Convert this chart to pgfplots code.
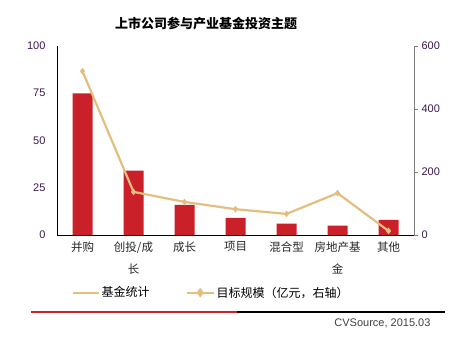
\documentclass[border=0pt]{standalone}
\usepackage{pgfplots}
\pgfplotsset{compat=1.18}
\usepackage{fontspec}
\setmainfont{Liberation Sans}
\newfontfamily\cjk{Noto Sans CJK SC}
\definecolor{barred}{HTML}{C9202A}
\definecolor{tanc}{HTML}{E3BE7E}
\definecolor{tickc}{HTML}{3A1A4A}
\begin{document}
\begin{tikzpicture}[x=1pt,y=1pt]
\path[use as bounding box] (0,0) rectangle (470,-346);
\node[font=\cjk\bfseries\fontsize{13}{15}\selectfont] at (206,-24) {上市公司参与产业基金投资主题};
\begin{axis}[
  at={(57pt,-235pt)}, anchor=south west, scale only axis,
  width=357pt, height=189pt,
  xmin=-0.5, xmax=6.5, ymin=0, ymax=100,
  axis y line*=left, axis x line*=bottom,
  axis line style={black, line width=0.8pt},
  ytick={0,25,50,75,100},
  xtick={0,...,6},
  xticklabels={并购,{创投/成\\长},成长,项目,混合型,{房地产基\\金},其他},
  major tick length=0pt,
  x tick label style={font=\cjk\fontsize{11.5}{22}\selectfont, align=center, color=black!85, yshift=-3pt},
  y tick label style={font=\fontsize{11}{13}\selectfont, color=tickc, xshift=-8pt},
  /pgf/number format/assume math mode=true,
  ybar, bar width=20pt,
]
\addplot[fill=barred, draw=none] coordinates {(0,75) (1,34) (2,16) (3,9) (4,6) (5,5) (6,8)};
\end{axis}
\begin{axis}[
  at={(57pt,-235pt)}, anchor=south west, scale only axis,
  width=357pt, height=189pt,
  xmin=-0.5, xmax=6.5, ymin=0, ymax=600,
  axis y line*=right, axis x line=none,
  axis line style={gray, line width=0.6pt},
  ytick={0,200,400,600},
  tick align=outside, major tick length=4pt,
  ytick style={gray},
  y tick label style={font=\fontsize{11}{13}\selectfont, color=tickc},
  /pgf/number format/assume math mode=true,
  legend style={at={(0.432,-0.305)}, anchor=center, draw=none, fill=none,
    font=\cjk\fontsize{12}{14}\selectfont, legend columns=2,
    /tikz/every even column/.append style={column sep=34pt}},
  legend image code/.code={\draw[#1] (0pt,0pt) -- (26pt,0pt);},
]
\addlegendimage{tanc, line width=2pt}
\addlegendentry{基金统计}
\addplot[tanc, line width=2.2pt, mark=diamond*, mark size=3pt, mark options={fill=tanc, draw=tanc, line width=0.5pt},
  legend image code/.code={\draw[tanc, line width=2pt] (0pt,0pt) -- (27pt,0pt); \fill[tanc] (13.5pt,0pt) +(0,3pt) -- +(2.2pt,0) -- +(0,-3pt) -- +(-2.2pt,0) -- cycle;}]
  coordinates {(0,520) (1,137) (2,105) (3,82) (4,67) (5,133) (6,13)};
\addlegendentry{目标规模（亿元，右轴）}
\end{axis}
\draw[barred, line width=2pt] (31,-312) -- (237,-312);
\draw[black, line width=2pt] (237,-312) -- (445,-312);
\node[anchor=east, font=\fontsize{11}{13}\selectfont, text=black!75] at (434,-323) {CVSource, 2015.03};
\end{tikzpicture}
\end{document}
